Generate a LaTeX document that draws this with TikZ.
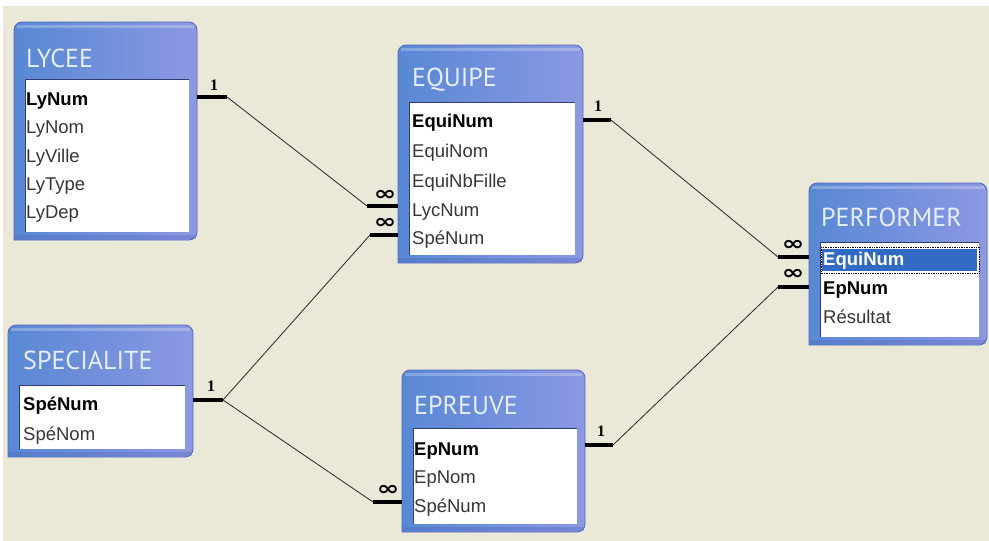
\documentclass[tikz,border=0pt]{standalone}
\usepackage{fontspec}
\setmainfont{Liberation Sans}
\newfontfamily\titlefont{PT Sans}
\newfontfamily\numfont{Liberation Serif}
\newfontfamily\symfont{DejaVu Sans}
\definecolor{bgc}{RGB}{234,232,214}
\definecolor{frA}{RGB}{88,136,212}
\definecolor{frB}{RGB}{140,152,226}
\definecolor{frLine}{RGB}{84,104,192}
\definecolor{ttl}{RGB}{228,238,255}
\definecolor{fld}{RGB}{55,55,55}
\definecolor{selb}{RGB}{49,106,197}
\newcommand\dbframe[5]{%
  \shade[left color=frA,right color=frB] ({#1},{#4}) [rounded corners=8pt] -- ({#1},{#2}) -- ({#3},{#2}) -- ({#3},{#4}) [sharp corners] -- cycle;
  \draw[frLine,line width=0.8pt] ({#1},{#4}) [rounded corners=8pt] -- ({#1},{#2}) -- ({#3},{#2}) -- ({#3},{#4}) [sharp corners] -- cycle;
  \fill[white,opacity=0.25] ({#1+3},{#2+3}) rectangle ({#3-3},{#2+6});
  \fill[frLine,opacity=0.35] ({#1+1},{#4-5}) rectangle ({#3-1},{#4-1});
  \fill[white] ({#1+11},{#5}) rectangle ({#3-8},{#4-8});
  \draw[frLine!60!black,line width=0.7pt] ({#1+11},{#4-8}) -- ({#1+11},{#5}) -- ({#3-8},{#5});
}
\begin{document}
\begin{tikzpicture}[x=1pt,y=-1pt,
  field/.style={anchor=west,inner sep=0pt,text height=14pt,text depth=4pt,text=fld,font=\fontsize{18.5}{18.5}\selectfont},
  keyfield/.style={field,text=black,font=\fontsize{18.5}{18.5}\selectfont\bfseries},
  tname/.style={anchor=west,inner sep=0pt,text=ttl,font=\titlefont\fontsize{26}{26}\selectfont},
  stub/.style={line width=3.5pt,black},
  link/.style={line width=0.8pt,black!85},
  one/.style={inner sep=0pt,font=\numfont\bfseries\fontsize{16}{16}\selectfont},
  many/.style={inner sep=0pt,font=\symfont\bfseries\fontsize{20}{20}\selectfont}]
\fill[white] (0,0) rectangle (989,541);
\fill[bgc] (3,6) rectangle (989,541);
\useasboundingbox (0,0) rectangle (989,541);

% LYCEE
\dbframe{14}{22}{197}{240}{79}
\node[tname] (t-lycee) at (26,58) {LYCEE};
\node[keyfield] (lynum) at (26,100) {LyNum};
\node[field] (lynom) at (26,128) {LyNom};
\node[field] (lyville) at (26,157) {LyVille};
\node[field] (lytype) at (26,185) {LyType};
\node[field] (lydep) at (26,213) {LyDep};

% EQUIPE
\dbframe{398}{45}{583}{263}{102}
\node[tname] (t-equipe) at (412,80) {EQUIPE};
\node[keyfield] (equinum) at (412,122) {EquiNum};
\node[field] (equinom) at (412,152) {EquiNom};
\node[field] (equinb) at (412,182) {EquiNbFille};
\node[field] (lycnum) at (412,211) {LycNum};
\node[field] (eqspe) at (412,239) {SpéNum};

% PERFORMER
\dbframe{809}{183}{987}{345}{242}
\node[tname] (t-perf) at (821,217) {PERFORMER};
\fill[selb] (822,249) rectangle (977,271);
\draw[black,densely dotted,line width=0.7pt] (821,247) rectangle (979,273);
\node[keyfield,text=white] (pequinum) at (823,260) {EquiNum};
\node[keyfield] (pepnum) at (823,289) {EpNum};
\node[field] (presult) at (823,318) {Résultat};

% SPECIALITE
\dbframe{8}{325}{193}{457}{385}
\node[tname] (t-spec) at (23,360) {SPECIALITE};
\node[keyfield] (spnum) at (23,405) {SpéNum};
\node[field] (spnom) at (23,435) {SpéNom};

% EPREUVE
\dbframe{402}{370}{585}{532}{428}
\node[tname] (t-epr) at (414,405) {EPREUVE};
\node[keyfield] (epnum) at (414,450) {EpNum};
\node[field] (epnom) at (414,478) {EpNom};
\node[field] (epspe) at (414,507) {SpéNum};

% anchor points on frames
\coordinate (lycR) at (197,97);
\coordinate (lycK) at (227,97);
\coordinate (eqL1) at (398,206);
\coordinate (eqK1) at (367,206);
\coordinate (eqL2) at (398,235);
\coordinate (eqK2) at (370,235);
\coordinate (spR) at (193,400);
\coordinate (spK) at (223,400);
\coordinate (epL) at (402,502);
\coordinate (epK) at (373,502);
\coordinate (eqR) at (583,120);
\coordinate (eqK) at (611,120);
\coordinate (pfL1) at (809,257);
\coordinate (pfK1) at (778,257);
\coordinate (pfL2) at (809,287);
\coordinate (pfK2) at (778,287);
\coordinate (epR) at (585,445);
\coordinate (epRK) at (613,445);

% connectors
\draw[stub] (lycR) -- (lycK);
\draw[link] (lycK) -- (eqK1);
\draw[stub] (eqK1) -- (eqL1);
\node[one] (o1) at (214,85) {1};
\node[many] (m1) at (385,195) {\scalebox{1.35}[1]{∞}};

\draw[stub] (spR) -- (spK);
\draw[link] (spK) -- (eqK2);
\draw[stub] (eqK2) -- (eqL2);
\draw[link] (spK) -- (epK);
\draw[stub] (epK) -- (epL);
\node[one] (o2) at (211,386) {1};
\node[many] (m2) at (385,223) {\scalebox{1.35}[1]{∞}};
\node[many] (m3) at (388,490) {\scalebox{1.35}[1]{∞}};

\draw[stub] (eqR) -- (eqK);
\draw[link] (eqK) -- (pfK1);
\draw[stub] (pfK1) -- (pfL1);
\node[one] (o3) at (598,106) {1};
\node[many] (m4) at (793,245) {\scalebox{1.35}[1]{∞}};

\draw[stub] (epR) -- (epRK);
\draw[link] (epRK) -- (pfK2);
\draw[stub] (pfK2) -- (pfL2);
\node[one] (o4) at (601,431) {1};
\node[many] (m5) at (793,274) {\scalebox{1.35}[1]{∞}};
\end{tikzpicture}
\end{document}
